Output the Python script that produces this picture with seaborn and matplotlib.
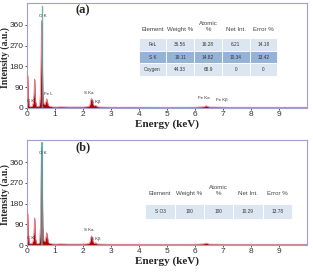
import matplotlib
matplotlib.use("Agg")
import matplotlib.pyplot as plt
import seaborn as sns
import pandas as pd

# spectrum (a): energy in keV, counts
energy_a = [0.00, 0.01, 0.03, 0.05, 0.08, 0.12, 0.18, 0.22, 0.25, 0.27, 0.28, 0.29, 0.31, 0.34,
            0.40, 0.45, 0.48, 0.50, 0.52, 0.53, 0.55, 0.57, 0.60, 0.64, 0.67, 0.70, 0.71, 0.73,
            0.76, 0.80, 0.90, 1.00, 1.20, 1.50, 1.80, 2.00, 2.20, 2.25, 2.28, 2.31, 2.33, 2.36,
            2.40, 2.46, 2.50, 2.60, 3.00, 4.00, 5.00, 6.00, 6.30, 6.40, 6.50, 7.06, 7.20, 8.00,
            9.00, 10.0]
counts_a = [0, 150, 140, 60, 10, 5, 8, 20, 60, 120, 126, 90, 30, 8,
            6, 12, 60, 200, 370, 378, 220, 70, 20, 15, 25, 38, 40, 30,
            12, 8, 5, 4, 5, 4, 4, 4, 6, 15, 35, 42, 36, 18,
            9, 12, 6, 4, 3, 3, 2, 3, 5, 10, 4, 3, 2, 2,
            2, 2]

# spectrum (b)
energy_b = [0.00, 0.01, 0.03, 0.05, 0.08, 0.12, 0.18, 0.22, 0.25, 0.27, 0.28, 0.29, 0.31, 0.34,
            0.40, 0.45, 0.48, 0.50, 0.52, 0.53, 0.55, 0.57, 0.60, 0.64, 0.67, 0.70, 0.71, 0.73,
            0.76, 0.80, 0.90, 1.00, 1.20, 1.50, 1.80, 2.00, 2.20, 2.25, 2.28, 2.31, 2.33, 2.36,
            2.40, 2.46, 2.50, 2.60, 3.00, 4.00, 5.00, 6.00, 6.30, 6.40, 6.50, 7.06, 7.20, 8.00,
            9.00, 10.0]
counts_b = [0, 150, 135, 55, 10, 5, 8, 18, 55, 112, 118, 85, 28, 8,
            6, 12, 80, 260, 420, 425, 260, 80, 20, 15, 30, 52, 54, 40,
            14, 8, 5, 4, 5, 4, 4, 4, 6, 14, 32, 40, 34, 16,
            8, 10, 5, 4, 3, 3, 2, 3, 5, 9, 4, 3, 2, 2,
            2, 2]

# peak labels: (text, energy, y)
labels_a = [("O K", 0.56, 392), ("C K", 0.13, 20), ("Fe L", 0.76, 52), ("S Ka", 2.22, 56),
            ("S Kβ", 2.45, 16), ("Fe Ka", 6.3, 36), ("Fe Kβ", 6.95, 28)]
labels_b = [("O K", 0.56, 392), ("C K", 0.13, 20), ("S Ka", 2.22, 56), ("S Kβ", 2.45, 16)]

# quantification tables
cols = ["Element", "Weight %", "Atomic\n%", "Net Int.", "Error %"]
table_a = [["FeL", "36.56", "16.28", "6.21", "14.18"],
           ["S K", "19.11", "14.82", "10.34", "13.42"],
           ["Oxygen", "44.33", "68.9", "0", "0"]]
table_b = [["S O3", "100", "100", "10.29", "13.78"]]

light = "#dce6f1"
mid = "#95b3d7"

sns.set_style("ticks")
plt.rcParams["font.family"] = ["Liberation Sans", "DejaVu Sans"]

fig = plt.figure(figsize=(3.13, 2.72), dpi=100)
ax_a = fig.add_axes([0.086, 0.603, 0.895, 0.386])
ax_b = fig.add_axes([0.086, 0.099, 0.895, 0.386])


def draw_panel(ax, energy, counts, labels, rows, row_colors, bbox, tag, oline_w):
    df = pd.DataFrame({"energy": energy, "counts": counts})
    ax.fill_between(df["energy"], df["counts"], color="#b40000", lw=0, zorder=2)
    sns.lineplot(data=df, x="energy", y="counts", ax=ax, color="#e87a8a", lw=0.5, zorder=3)
    ax.axvline(0.525, ymin=0, ymax=0.97, color="#4aa3a0", lw=oline_w, alpha=0.8, zorder=4)
    ax.axhline(0.8, color="#9f9fd8", lw=1.6, zorder=1)
    for txt, x, y in labels:
        ax.text(x, y, txt, fontsize=3.2, color="#333333", ha="center", va="bottom", zorder=5)
    ax.set_xlim(0, 10)
    ax.set_ylim(0, 455)
    ax.set_xticks(range(0, 10))
    ax.set_yticks([0, 90, 180, 270, 360])
    ax.tick_params(labelsize=6, length=1.5, width=0.6, pad=0.8, colors="#333333")
    ax.set_xlabel("Energy (keV)", family="Liberation Serif", fontweight="bold", fontsize=8, labelpad=1)
    ax.set_ylabel("Intensity (a.u.)", family="Liberation Serif", fontweight="bold", fontsize=7)
    ax.yaxis.set_label_coords(-0.078, 0.48)
    ax.yaxis.label.set_va("center")
    for s in ax.spines.values():
        s.set_color("#a0a0c8")
        s.set_linewidth(0.8)
    ax.text(0.175, 0.93, tag, transform=ax.transAxes, family="Liberation Serif",
            fontweight="bold", fontsize=9, ha="left", va="center")

    colors = [["white"] * 5] + [[c] * 5 for c in row_colors]
    tb = ax.table(cellText=[cols] + rows, cellColours=colors, cellLoc="center",
                  bbox=bbox, zorder=6)
    tb.auto_set_font_size(False)
    tb.set_fontsize(3.4)
    for (r, c), cell in tb.get_celld().items():
        cell.set_edgecolor("white")
        cell.set_linewidth(0.6)
        if r == 0:
            cell.set_fontsize(4.4)
            cell.get_text().set_color("#444444")
            cell.get_text().set_va("bottom")
        else:
            cell.get_text().set_color("#333333")


draw_panel(ax_a, energy_a, counts_a, labels_a, table_a, [light, mid, light],
           [0.399, 0.305, 0.495, 0.476], "(a)", 1.0)
draw_panel(ax_b, energy_b, counts_b, labels_b, table_b, [light],
           [0.423, 0.248, 0.523, 0.295], "(b)", 1.6)

fig.savefig("out.png", dpi=100)
